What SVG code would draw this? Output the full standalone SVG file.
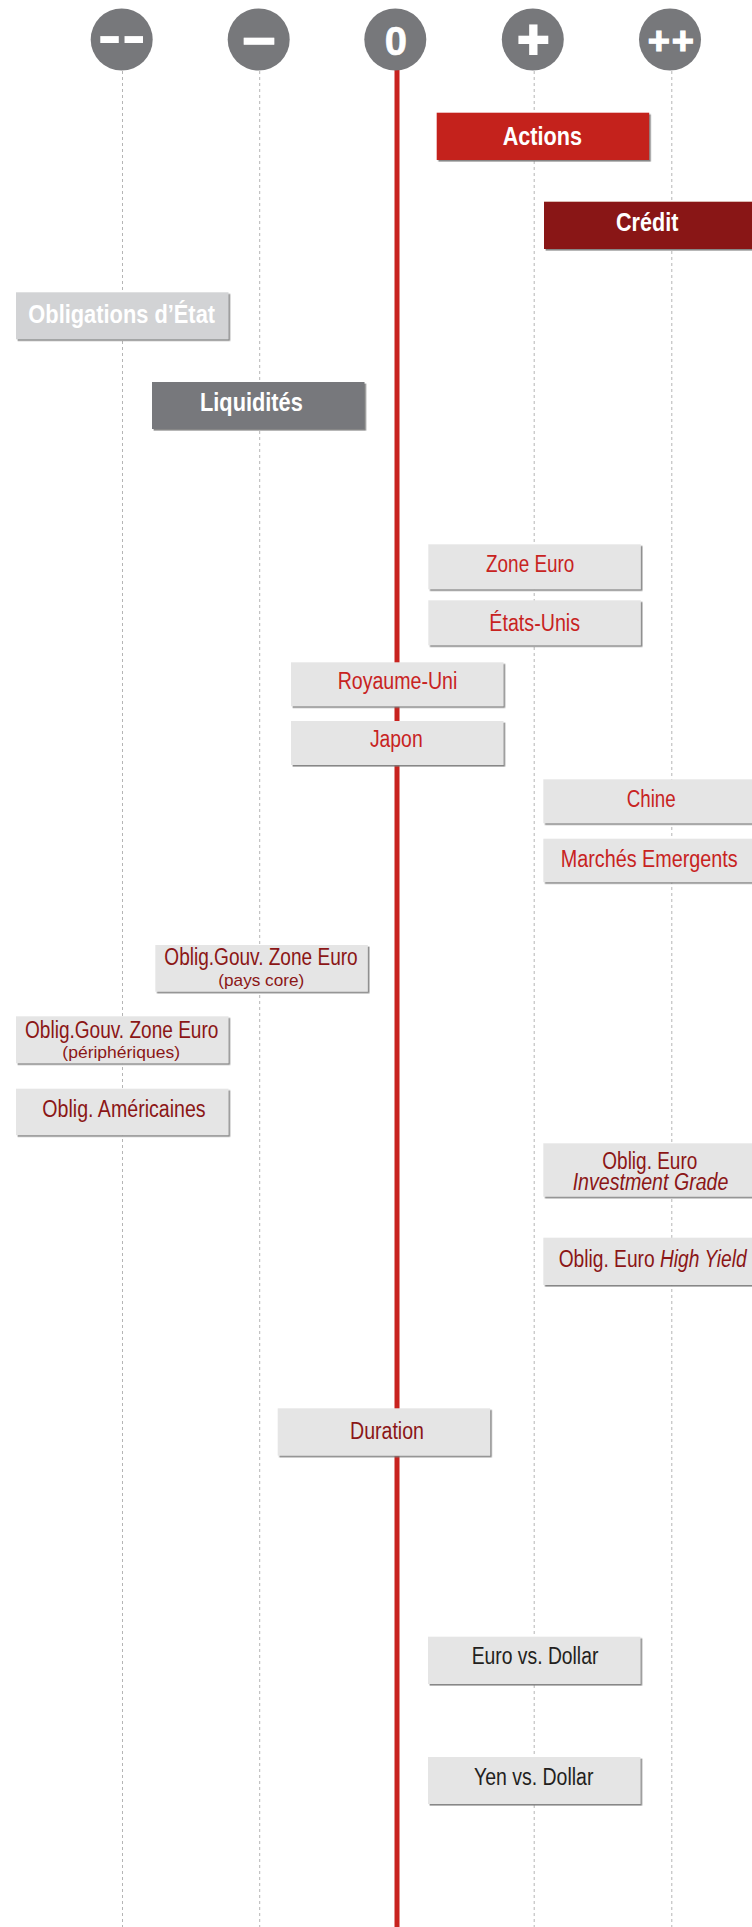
<svg xmlns="http://www.w3.org/2000/svg" width="752" height="1927" viewBox="0 0 752 1927">
<style>
.bg{fill:#ffffff}
.grid{stroke:#b5b5b5;stroke-width:1;stroke-dasharray:3 3;fill:none}
.axis{stroke:#c8231f;stroke-width:5;fill:none}
.circ{fill:#77787b}
.sym{fill:#ffffff;stroke:#ffffff;font-family:"Liberation Sans",Arial,sans-serif;font-weight:bold;text-anchor:middle}
.box{fill:#e5e5e5;filter:url(#sh)}
.lbl{font-family:"Liberation Sans",Arial,sans-serif;font-size:23px;text-anchor:middle}
.big{font-family:"Liberation Sans",Arial,sans-serif;font-size:26px;font-weight:bold;fill:#ffffff;text-anchor:middle}
.red{fill:#c8231f}
.dk{fill:#8b1616}
.blk{fill:#231f20}
.it{font-style:italic}
.sm{font-size:17px}
</style>
<defs>
<filter id="sh" x="-5%" y="-10%" width="115%" height="130%">
<feDropShadow dx="1.6" dy="1.6" stdDeviation="0.6" flood-color="#7a7a7a" flood-opacity="0.9"/>
</filter>
</defs>
<rect class="bg" x="0" y="0" width="752" height="1927"/>
<g id="connectors">
<line class="grid" x1="122.5" y1="71" x2="122.5" y2="1927"/>
<line class="grid" x1="259.7" y1="71" x2="259.7" y2="1927"/>
<line class="grid" x1="534.2" y1="71" x2="534.2" y2="1927"/>
<line class="grid" x1="671.8" y1="71" x2="671.8" y2="1927"/>
<line class="axis" x1="397" y1="68" x2="397" y2="1927"/>
</g>
<g id="scale-mm">
<circle class="circ" cx="121.7" cy="39.5" r="31"/>
<text class="sym" x="0" y="0" font-size="58" stroke-width="0" transform="translate(121.7,55) scale(1.25,1)">--</text>
</g>
<g id="scale-m">
<circle class="circ" cx="258.7" cy="39.5" r="31"/>
<text class="sym" x="258.7" y="61" font-size="60" stroke-width="0.4">−</text>
</g>
<g id="scale-0">
<circle class="circ" cx="395.3" cy="39.5" r="31"/>
<text class="sym" x="395.8" y="55.3" font-size="40" stroke-width="0.6">0</text>
</g>
<g id="scale-p">
<circle class="circ" cx="532.8" cy="39.5" r="31"/>
<text class="sym" x="533.3" y="58.4" font-size="55" stroke-width="2.2">+</text>
</g>
<g id="scale-pp">
<circle class="circ" cx="670" cy="39.5" r="31"/>
<text class="sym" x="671.7" y="53.6" font-size="38" stroke-width="1.2" letter-spacing="1.8">++</text>
</g>
<g id="actions">
<rect x="436.7" y="112.7" width="212.5" height="47.3" fill="#c4211d" filter="url(#sh)"/>
<text class="big" x="542.3" y="145" textLength="79.3" lengthAdjust="spacingAndGlyphs">Actions</text>
</g>
<g id="credit">
<rect x="544" y="201.7" width="212.5" height="47.3" fill="#891413" filter="url(#sh)"/>
<text class="big" x="647.2" y="230.7" textLength="62.3" lengthAdjust="spacingAndGlyphs">Crédit</text>
</g>
<g id="obligations-etat">
<rect x="16" y="292.3" width="212.5" height="47" fill="#d2d3d5" filter="url(#sh)"/>
<text class="big" x="121.7" y="323.3" textLength="186.7" lengthAdjust="spacingAndGlyphs">Obligations d’État</text>
</g>
<g id="liquidites">
<rect x="152" y="382" width="212.5" height="47" fill="#77787b" filter="url(#sh)"/>
<text class="big" x="251.4" y="411" textLength="102.7" lengthAdjust="spacingAndGlyphs">Liquidités</text>
</g>
<g id="zone-euro">
<rect class="box" x="428.3" y="544.3" width="212.5" height="45"/>
<text class="lbl red" x="530.2" y="572.3" textLength="88.3" lengthAdjust="spacingAndGlyphs">Zone Euro</text>
</g>
<g id="etats-unis">
<rect class="box" x="428.3" y="600.3" width="212.5" height="45"/>
<text class="lbl red" x="534.7" y="630.5" textLength="90.7" lengthAdjust="spacingAndGlyphs">États-Unis</text>
</g>
<g id="royaume-uni">
<rect class="box" x="291" y="662.3" width="212.5" height="44"/>
<text class="lbl red" x="397.5" y="689.3" textLength="119.7" lengthAdjust="spacingAndGlyphs">Royaume-Uni</text>
</g>
<g id="japon">
<rect class="box" x="291" y="721" width="212.5" height="44"/>
<text class="lbl red" x="396.3" y="746.7" textLength="52.7" lengthAdjust="spacingAndGlyphs">Japon</text>
</g>
<g id="chine">
<rect class="box" x="543.3" y="779.3" width="212.5" height="44"/>
<text class="lbl red" x="651.2" y="806.7" textLength="49" lengthAdjust="spacingAndGlyphs">Chine</text>
</g>
<g id="marches-emergents">
<rect class="box" x="543.3" y="838.7" width="212.5" height="43.5"/>
<text class="lbl red" x="649.2" y="866.7" textLength="177" lengthAdjust="spacingAndGlyphs">Marchés Emergents</text>
</g>
<g id="oblig-core">
<rect class="box" x="155.3" y="945" width="212.5" height="46.7"/>
<text class="lbl dk" x="261" y="965.3" textLength="193.3" lengthAdjust="spacingAndGlyphs">Oblig.Gouv. Zone Euro</text>
<text class="lbl dk sm" x="261.3" y="986.2" textLength="86" lengthAdjust="spacingAndGlyphs">(pays core)</text>
</g>
<g id="oblig-peripheriques">
<rect class="box" x="16" y="1016.3" width="212.5" height="47"/>
<text class="lbl dk" x="121.7" y="1038" textLength="193.3" lengthAdjust="spacingAndGlyphs">Oblig.Gouv. Zone Euro</text>
<text class="lbl dk sm" x="121.2" y="1058.3" textLength="117.7" lengthAdjust="spacingAndGlyphs">(périphériques)</text>
</g>
<g id="oblig-americaines">
<rect class="box" x="16" y="1088.7" width="212.5" height="46.5"/>
<text class="lbl dk" x="124" y="1116.7" textLength="163.3" lengthAdjust="spacingAndGlyphs">Oblig. Américaines</text>
</g>
<g id="oblig-euro-ig">
<rect class="box" x="543.3" y="1143.3" width="212.5" height="53.4"/>
<text class="lbl dk" x="649.8" y="1169" textLength="95" lengthAdjust="spacingAndGlyphs">Oblig. Euro</text>
<text class="lbl dk it" x="650.5" y="1190" textLength="155.7" lengthAdjust="spacingAndGlyphs">Investment Grade</text>
</g>
<g id="oblig-euro-hy">
<rect class="box" x="543.3" y="1237.7" width="212.5" height="47.3"/>
<text class="lbl dk" x="558.7" y="1267.3" style="text-anchor:start" textLength="188" lengthAdjust="spacingAndGlyphs">Oblig. Euro <tspan class="it">High Yield</tspan></text>
</g>
<g id="duration">
<rect class="box" x="277.7" y="1408.3" width="212.5" height="47.4"/>
<text class="lbl dk" x="387" y="1439.3" textLength="74" lengthAdjust="spacingAndGlyphs">Duration</text>
</g>
<g id="euro-dollar">
<rect class="box" x="428" y="1636.7" width="212.5" height="47.3"/>
<text class="lbl blk" x="535" y="1664" textLength="126.7" lengthAdjust="spacingAndGlyphs">Euro vs. Dollar</text>
</g>
<g id="yen-dollar">
<rect class="box" x="428" y="1757" width="212.5" height="47"/>
<text class="lbl blk" x="533.7" y="1785" textLength="119.5" lengthAdjust="spacingAndGlyphs">Yen vs. Dollar</text>
</g>
</svg>
